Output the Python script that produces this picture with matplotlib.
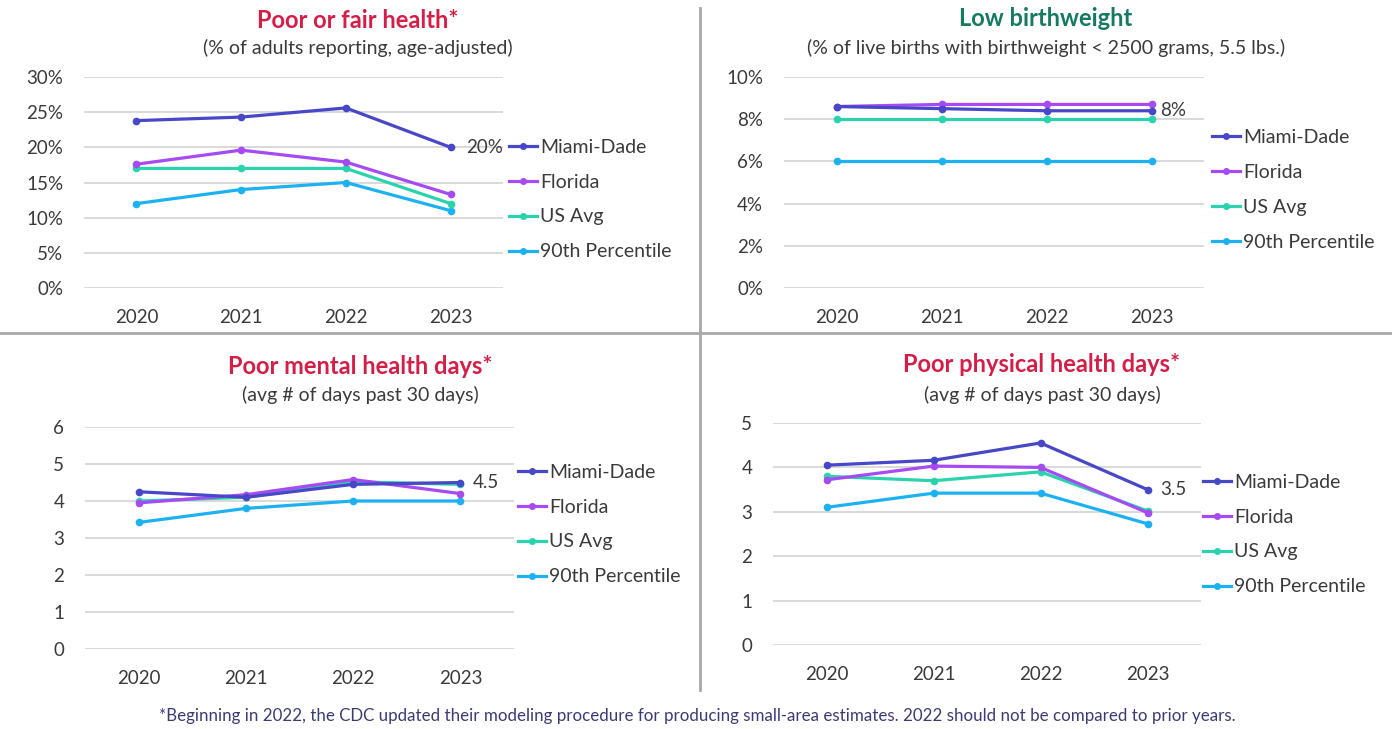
import matplotlib
matplotlib.use("Agg")
import matplotlib.pyplot as plt
from matplotlib.ticker import PercentFormatter, MultipleLocator
from matplotlib.lines import Line2D

plt.rcParams['font.family'] = ['Lato', 'DejaVu Sans']

years = ["2020", "2021", "2022", "2023"]
series_names = ["Miami-Dade", "Florida", "US Avg", "90th Percentile"]

# Poor or fair health (% of adults)
pfh_miami = [23.8, 24.3, 25.6, 20.0]
pfh_florida = [17.6, 19.6, 17.9, 13.3]
pfh_us = [17.0, 17.0, 17.0, 12.0]
pfh_p90 = [12.0, 14.0, 15.0, 11.0]

# Low birthweight (% of live births)
lbw_miami = [8.6, 8.5, 8.4, 8.4]
lbw_florida = [8.6, 8.7, 8.7, 8.7]
lbw_us = [8.0, 8.0, 8.0, 8.0]
lbw_p90 = [6.0, 6.0, 6.0, 6.0]

# Poor mental health days
pmh_miami = [4.25, 4.1, 4.45, 4.5]
pmh_florida = [3.95, 4.17, 4.58, 4.2]
pmh_us = [4.0, 4.1, 4.52, 4.45]
pmh_p90 = [3.42, 3.8, 4.0, 4.0]

# Poor physical health days
pph_miami = [4.05, 4.16, 4.55, 3.5]
pph_florida = [3.72, 4.03, 4.0, 2.98]
pph_us = [3.8, 3.7, 3.9, 3.02]
pph_p90 = [3.1, 3.42, 3.42, 2.73]

titles = ["Poor or fair health*", "Low birthweight",
          "Poor mental health days*", "Poor physical health days*"]
subtitles = ["(% of adults reporting, age-adjusted)",
             "(% of live births with birthweight < 2500 grams, 5.5 lbs.)",
             "(avg # of days past 30 days)",
             "(avg # of days past 30 days)"]
footnote = ("*Beginning in 2022, the CDC updated their modeling procedure for producing "
            "small-area estimates. 2022 should not be compared to prior years.")

colors = ["#4747c8", "#a64af2", "#2ad3ad", "#1cb2f2"]
RED = "#d31f48"
GREEN = "#167a62"
TXT = "#3a3a3a"
GRID = "#d9d9d9"
DIV = "#a8a8a8"

W, H = 1392, 729
fig = plt.figure(figsize=(W / 100, H / 100), dpi=100)


def px_axes(left, top, right, bottom):
    return fig.add_axes([left / W, 1 - bottom / H, (right - left) / W, (bottom - top) / H])


panels = [
    dict(box=(84, 77, 503, 288), data=[pfh_miami, pfh_florida, pfh_us, pfh_p90],
         ymax=30, step=5, pct=True, tcol=RED, tx=358, ty=20, sty=48,
         leg=(509, 199.5), lab_off=15),
    dict(box=(784, 77, 1204, 288), data=[lbw_miami, lbw_florida, lbw_us, lbw_p90],
         ymax=10, step=2, pct=True, tcol=GREEN, tx=1046, ty=19, sty=48,
         leg=(1212, 190), lab_off=9),
    dict(box=(85, 427, 514, 649), data=[pmh_miami, pmh_florida, pmh_us, pmh_p90],
         ymax=6, step=1, pct=False, tcol=RED, tx=360, ty=367, sty=395,
         leg=(518, 524.5), lab_off=12),
    dict(box=(773, 423, 1201, 645), data=[pph_miami, pph_florida, pph_us, pph_p90],
         ymax=5, step=1, pct=False, tcol=RED, tx=1042, ty=365, sty=395,
         leg=(1203, 534.5), lab_off=13),
]

x = list(range(len(years)))
for i, p in enumerate(panels):
    ax = px_axes(*p["box"])
    for s, (vals, c) in enumerate(zip(p["data"], colors)):
        ax.plot(x, vals, color=c, lw=2.3, marker="o", ms=4.5,
                solid_capstyle="round", zorder=3 + (3 - s) * 0.1)
    ax.set_xlim(-0.5, len(years) - 0.5)
    ax.set_ylim(0, p["ymax"])
    ax.yaxis.set_major_locator(MultipleLocator(p["step"]))
    if p["pct"]:
        ax.yaxis.set_major_formatter(PercentFormatter(xmax=100, decimals=0))
    ax.set_xticks(x)
    ax.set_xticklabels(years)
    ax.grid(axis="y", color=GRID, lw=1.4, zorder=0)
    ax.set_axisbelow(True)
    for sp in ax.spines.values():
        sp.set_visible(False)
    ax.tick_params(axis="both", length=0, labelsize=13.5, colors=TXT)
    ax.tick_params(axis="y", pad=15)
    ax.tick_params(axis="x", pad=15)

    # data label on last Miami-Dade point
    v = p["data"][0][-1]
    lab = f"{round(v)}%" if p["pct"] else f"{v:.1f}"
    ax.annotate(lab, xy=(x[-1], v), xytext=(p["lab_off"], 0),
                textcoords="offset pixels", ha="left", va="center",
                fontsize=13.5, color=TXT)

    lx, ly = p["leg"]
    leg_handles = [Line2D([0], [0], color=c, lw=2.3, marker="o", ms=4) for c in colors]
    ax.legend(leg_handles, series_names, loc="center left",
              bbox_to_anchor=(lx / W, 1 - ly / H), bbox_transform=fig.transFigure,
              frameon=False, fontsize=14, handlelength=1.45, handletextpad=0.15,
              labelspacing=0.92, borderpad=0, borderaxespad=0, labelcolor=TXT)

    fig.text(p["tx"] / W, 1 - p["ty"] / H, titles[i], ha="center", va="center",
             fontsize=17, fontweight="bold", color=p["tcol"])
    fig.text(p["tx"] / W, 1 - p["sty"] / H, subtitles[i], ha="center", va="center",
             fontsize=14, color=TXT)

# dividers
fig.add_artist(Line2D([700 / W, 700 / W], [1 - 8 / H, 1 - 690 / H],
                      transform=fig.transFigure, color=DIV, lw=2))
fig.add_artist(Line2D([0, 1], [1 - 333 / H, 1 - 333 / H],
                      transform=fig.transFigure, color=DIV, lw=2))

fig.text(697 / W, 1 - 716 / H, footnote, ha="center", va="center",
         fontsize=12.2, color="#3b3b74")

fig.savefig("out.png", dpi=100, facecolor="white")
